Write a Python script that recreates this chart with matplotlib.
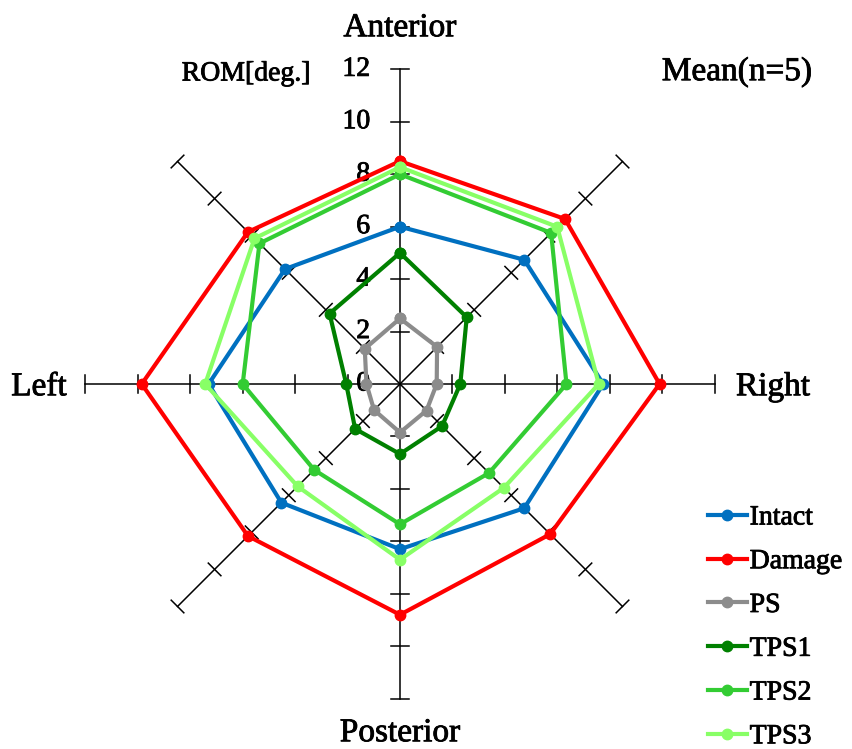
import numpy as np
import matplotlib
matplotlib.use("Agg")
import matplotlib.pyplot as plt
import matplotlib.patheffects as pe

plt.rcParams['font.family'] = ['Liberation Serif', 'DejaVu Serif']

# directions, clockwise from the top
directions = ["Anterior", "", "Right", "", "Posterior", "", "Left", ""]
ticks = [0, 2, 4, 6, 8, 10, 12]

series = ["Intact", "Damage", "PS", "TPS1", "TPS2", "TPS3"]
intact = [6.0, 6.7, 7.75, 6.7, 6.3, 6.4, 7.3, 6.2]
damage = [8.5, 8.9, 9.9, 8.1, 8.8, 8.2, 9.85, 8.2]
ps = [2.5, 2.0, 1.4, 1.43, 1.85, 1.4, 1.28, 1.9]
tps1 = [5.0, 3.6, 2.3, 2.27, 2.67, 2.42, 2.05, 3.8]
tps2 = [8.0, 8.15, 6.35, 4.8, 5.35, 4.63, 6.0, 7.58]
tps3 = [8.27, 8.48, 7.58, 5.6, 6.7, 5.52, 7.43, 7.85]
values = [intact, damage, ps, tps1, tps2, tps3]
colors = ["#0070C0", "#FF0000", "#8C8C8C", "#008000", "#33CC33", "#88FF66"]

# angle of each spoke (math convention)
angles = np.deg2rad(90 - 45 * np.arange(len(directions)))
rmax = ticks[-1]

fig = plt.figure(figsize=(8.52, 7.49), dpi=100)
ax = fig.add_axes([0, 0, 1, 1])
ppu = 26.22  # pixels per unit
ax.set_xlim(-400 / ppu, 452 / ppu)
ax.set_ylim(-(749 - 384) / ppu, 384 / ppu)
ax.set_aspect('equal')
ax.axis('off')

heavy = [pe.withStroke(linewidth=0.6, foreground='black')]

# spokes with tick marks
tl = 0.34
for a in angles:
    ca, sa = np.cos(a), np.sin(a)
    ax.plot([0, rmax * ca], [0, rmax * sa], color='black', lw=1.1, zorder=1)
    for t in ticks[1:]:
        px, py = t * ca, t * sa
        ax.plot([px - tl * sa, px + tl * sa], [py + tl * ca, py - tl * ca],
                color='black', lw=1.1, zorder=1)

# value labels along the anterior spoke
for t in ticks:
    ax.text(-1.14, t, str(t), ha='right', va='center', fontsize=20,
            zorder=2, path_effects=heavy)

# data polygons
handles = []
for name, vals, c in zip(series, values, colors):
    v = np.array(vals + vals[:1])
    a = np.concatenate([angles, angles[:1]])
    h, = ax.plot(v * np.cos(a), v * np.sin(a), color=c, lw=3, marker='o',
                 markersize=7.5, label=name, zorder=3)
    handles.append(h)

# direction labels
ax.text(0, (384 - 28) / ppu, "Anterior", ha='center', va='center', fontsize=24, path_effects=heavy)
ax.text(0, -(733 - 384) / ppu, "Posterior", ha='center', va='center', fontsize=24, path_effects=heavy)
ax.text(-(400 - 39) / ppu, -3 / ppu, "Left", ha='center', va='center', fontsize=24, path_effects=heavy)
ax.text((773 - 400) / ppu, -3 / ppu, "Right", ha='center', va='center', fontsize=24, path_effects=heavy)
ax.text((246 - 400) / ppu, (384 - 74) / ppu, "ROM[deg.]", ha='center', va='center', fontsize=20, path_effects=heavy)
ax.text((737 - 400) / ppu, (384 - 72) / ppu, "Mean(n=5)", ha='center', va='center', fontsize=24, path_effects=heavy)

leg = ax.legend(handles=handles, loc='upper left', bbox_to_anchor=(708 / 852, 1 - 505 / 749),
                bbox_transform=fig.transFigure, frameon=False, fontsize=20,
                handlelength=1.4, handletextpad=0.1, labelspacing=0.66,
                borderpad=0, borderaxespad=0)
for txt in leg.get_texts():
    txt.set_path_effects(heavy)

fig.savefig("out.png", dpi=100)
